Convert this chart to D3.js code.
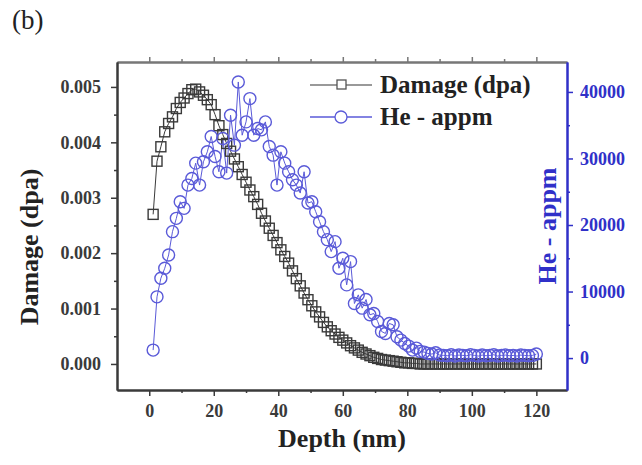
<!DOCTYPE html>
<html>
<head>
<meta charset="utf-8">
<script src="https://cdn.jsdelivr.net/npm/d3@7"></script>
<style>
  body { margin: 0; background: #fff; }
  svg text { font-family: "Liberation Serif", "Times New Roman", serif; }
  .tick text { font-weight: bold; font-size: 18px; }
</style>
</head>
<body>
<div id="chart"></div>
<script>
// Depth bins (nm)
const depth = [1.2, 2.4, 3.6, 4.8, 6.0, 7.2, 8.4, 9.6, 10.8, 12.0,
  13.2, 14.4, 15.6, 16.8, 18.0, 19.2, 20.4, 21.6, 22.8, 24.0,
  25.2, 26.4, 27.6, 28.8, 30.0, 31.2, 32.4, 33.6, 34.8, 36.0,
  37.2, 38.4, 39.6, 40.8, 42.0, 43.2, 44.4, 45.6, 46.8, 48.0,
  49.2, 50.4, 51.6, 52.8, 54.0, 55.2, 56.4, 57.6, 58.8, 60.0,
  61.2, 62.4, 63.6, 64.8, 66.0, 67.2, 68.4, 69.6, 70.8, 72.0,
  73.2, 74.4, 75.6, 76.8, 78.0, 79.2, 80.4, 81.6, 82.8, 84.0,
  85.2, 86.4, 87.6, 88.8, 90.0, 91.2, 92.4, 93.6, 94.8, 96.0,
  97.2, 98.4, 99.6, 100.8, 102.0, 103.2, 104.4, 105.6, 106.8, 108.0,
  109.2, 110.4, 111.6, 112.8, 114.0, 115.2, 116.4, 117.6, 118.8, 120.0];

// Damage (dpa)
const damage = [0.00270, 0.00366, 0.00392, 0.00419, 0.00434, 0.00446, 0.00461, 0.00472, 0.00480, 0.00488,
  0.00495, 0.00496, 0.00491, 0.00485, 0.00477, 0.00468, 0.00450, 0.00430, 0.00414, 0.00398,
  0.00384, 0.00370, 0.00356, 0.00342, 0.00328, 0.00314, 0.00302, 0.00288, 0.00272, 0.00258,
  0.00245, 0.00232, 0.00219, 0.00206, 0.00194, 0.00182, 0.00168, 0.00154, 0.00141, 0.00128,
  0.00116, 0.00105, 0.00094, 0.00085, 0.00075, 0.00067, 0.00060, 0.00054, 0.00048, 0.00043,
  0.00038, 0.00033, 0.00029, 0.00025, 0.00021, 0.00018, 0.00015, 0.00012, 0.00010, 0.00008,
  0.00007, 0.00006, 0.00005, 0.00004, 0.00003, 0.00002, 0.00002, 0.00001, 0.00001, 0,
  0, 0, 0, 0, 0, 0, 0, 0, 0, 0,
  0, 0, 0, 0, 0, 0, 0, 0, 0, 0,
  0, 0, 0, 0, 0, 0, 0, 0, 0, 0];

// He concentration (appm)
const helium = [1200, 9200, 12000, 13500, 15500, 19000, 21000, 23500, 22500, 26000,
  27000, 29300, 26000, 29500, 31000, 33300, 30300, 28000, 33000, 27800,
  36500, 32000, 41500, 33500, 35500, 39000, 33500, 34500, 34300, 35500,
  31800, 30500, 26000, 31000, 29300, 28000, 26800, 26000, 24800, 28000,
  23300, 23500, 22000, 20500, 19000, 17800, 16000, 17500, 13500, 15000,
  11000, 14500, 8200, 9500, 7500, 8800, 6500, 6700, 5500, 4000,
  3700, 5200, 5000, 3200, 2700, 2200, 1800, 1200, 1500, 1000,
  900, 700, 600, 800, 450, 400, 350, 500, 300, 450,
  400, 350, 500, 400, 300, 450, 350, 400, 500, 300,
  400, 450, 350, 400, 300, 450, 400, 350, 400, 600];

const xTicks = [0, 20, 40, 60, 80, 100, 120];
const xMinor = [10, 30, 50, 70, 90, 110];
const leftTicks = [0, 0.001, 0.002, 0.003, 0.004, 0.005];
const leftMinor = [0.0005, 0.0015, 0.0025, 0.0035, 0.0045];
const rightTicks = [0, 10000, 20000, 30000, 40000];
const rightMinor = [5000, 15000, 25000, 35000];

const W = 642, H = 465;
const plot = { left: 117, right: 567, top: 62, bottom: 390 };
const dark = '#3a3a3a';
const blue = '#3030c8';
const blueMark = '#5a5ad8';

const svg = d3.select('#chart').append('svg')
  .attr('width', W).attr('height', H);

const x = d3.scaleLinear().domain([-10, 129.5]).range([plot.left, plot.right]);
const yL = d3.scaleLinear().domain([-0.00047, 0.00545]).range([plot.bottom, plot.top]);
const yR = d3.scaleLinear().domain([-4800, 44500]).range([plot.bottom, plot.top]);

// Axes
function styleAxis(g, color) {
  g.select('.domain').attr('stroke', color).attr('stroke-width', 2);
  g.selectAll('.tick line').attr('stroke', color).attr('stroke-width', 1.5);
  g.selectAll('.tick text').attr('fill', color);
}

svg.append('g')
  .attr('transform', `translate(0,${plot.bottom})`)
  .call(d3.axisBottom(x).tickValues(xTicks).tickSize(6).tickSizeOuter(0).tickPadding(8).tickFormat(d3.format('d')))
  .call(g => styleAxis(g, dark));
svg.append('g')
  .attr('transform', `translate(0,${plot.bottom})`)
  .call(d3.axisBottom(x).tickValues(xMinor).tickSize(3).tickSizeOuter(0).tickFormat(''))
  .call(g => styleAxis(g, dark));

svg.append('g')
  .attr('transform', `translate(0,${plot.top})`)
  .call(d3.axisTop(x).tickValues(xTicks).tickSize(5).tickSizeOuter(0).tickFormat(''))
  .call(g => styleAxis(g, '#777'));
svg.append('g')
  .attr('transform', `translate(0,${plot.top})`)
  .call(d3.axisTop(x).tickValues(xMinor).tickSize(3).tickSizeOuter(0).tickFormat(''))
  .call(g => styleAxis(g, '#777'));

svg.append('g')
  .attr('transform', `translate(${plot.left},0)`)
  .call(d3.axisLeft(yL).tickValues(leftTicks).tickSize(6).tickSizeOuter(0).tickPadding(10).tickFormat(d3.format('.3f')))
  .call(g => styleAxis(g, dark));
svg.append('g')
  .attr('transform', `translate(${plot.left},0)`)
  .call(d3.axisLeft(yL).tickValues(leftMinor).tickSize(3).tickSizeOuter(0).tickFormat(''))
  .call(g => styleAxis(g, dark));

svg.append('g')
  .attr('transform', `translate(${plot.right},0)`)
  .call(d3.axisRight(yR).tickValues(rightTicks).tickSize(6).tickSizeOuter(0).tickPadding(7).tickFormat(d3.format('d')))
  .call(g => styleAxis(g, blue));
svg.append('g')
  .attr('transform', `translate(${plot.right},0)`)
  .call(d3.axisRight(yR).tickValues(rightMinor).tickSize(3).tickSizeOuter(0).tickFormat(''))
  .call(g => styleAxis(g, blue));

// Series
const damagePts = depth.map((d, i) => ({ d, v: damage[i] }));
const hePts = depth.map((d, i) => ({ d, v: helium[i] }));

svg.append('path')
  .datum(damagePts)
  .attr('fill', 'none').attr('stroke', dark).attr('stroke-width', 1)
  .attr('d', d3.line().x(p => x(p.d)).y(p => yL(p.v)));

svg.append('path')
  .datum(hePts)
  .attr('fill', 'none').attr('stroke', blueMark).attr('stroke-width', 1)
  .attr('d', d3.line().x(p => x(p.d)).y(p => yR(p.v)));

const sq = 10;
svg.append('g').selectAll('rect')
  .data(damagePts).join('rect')
  .attr('x', p => x(p.d) - sq / 2)
  .attr('y', p => yL(p.v) - sq / 2)
  .attr('width', sq).attr('height', sq)
  .attr('fill', 'none').attr('stroke', dark).attr('stroke-width', 1.4);

svg.append('g').selectAll('circle')
  .data(hePts).join('circle')
  .attr('cx', p => x(p.d))
  .attr('cy', p => yR(p.v))
  .attr('r', 6)
  .attr('fill', 'none').attr('stroke', blueMark).attr('stroke-width', 1.4);

// Legend
const legend = svg.append('g');
legend.append('line').attr('x1', 310).attr('x2', 372).attr('y1', 85).attr('y2', 85)
  .attr('stroke', '#777').attr('stroke-width', 1.5);
legend.append('rect').attr('x', 337).attr('y', 80).attr('width', 9).attr('height', 9)
  .attr('fill', '#fff').attr('stroke', '#555').attr('stroke-width', 1.3);
legend.append('text').attr('x', 380).attr('y', 93)
  .attr('font-size', 25).attr('font-weight', 'bold').attr('fill', '#222')
  .text('Damage (dpa)');
legend.append('line').attr('x1', 310).attr('x2', 372).attr('y1', 117).attr('y2', 117)
  .attr('stroke', blueMark).attr('stroke-width', 1.5);
legend.append('circle').attr('cx', 341).attr('cy', 117).attr('r', 6)
  .attr('fill', '#fff').attr('stroke', blueMark).attr('stroke-width', 1.3);
legend.append('text').attr('x', 380).attr('y', 125)
  .attr('font-size', 25).attr('font-weight', 'bold').attr('fill', '#222')
  .text('He - appm');

// Axis titles
svg.append('text')
  .attr('x', 342).attr('y', 447)
  .attr('text-anchor', 'middle')
  .attr('font-size', 26).attr('font-weight', 'bold').attr('fill', '#222')
  .text('Depth (nm)');

svg.append('text')
  .attr('transform', 'translate(38,247) rotate(-90)')
  .attr('text-anchor', 'middle')
  .attr('font-size', 26).attr('font-weight', 'bold').attr('fill', '#222')
  .text('Damage (dpa)');

svg.append('text')
  .attr('transform', 'translate(556,226) rotate(-90)')
  .attr('text-anchor', 'middle')
  .attr('font-size', 26).attr('font-weight', 'bold').attr('fill', blue)
  .text('He - appm');

svg.append('text')
  .attr('x', 12).attr('y', 29)
  .attr('font-size', 27).attr('fill', '#222')
  .text('(b)');
</script>
</body>
</html>
